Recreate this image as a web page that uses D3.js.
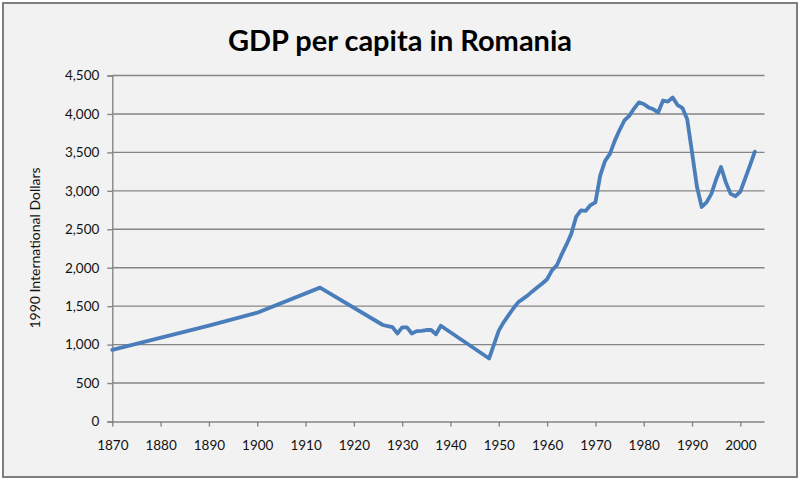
<!DOCTYPE html>
<html><head><meta charset="utf-8">
<script src="https://cdn.jsdelivr.net/npm/d3@7"></script>
<style>html,body{margin:0;padding:0;background:#fff;}svg{display:block;}</style>
</head><body>
<svg id="chart" width="800" height="481"></svg>
<script>
const years = [1870,1890,1900,1913,1926,1927,1928,1929,1930,1931,1932,1933,1934,1935,1936,1937,1938,1948,
  1950,1951,1952,1953,1954,1955,1956,1957,1958,1959,1960,1961,1962,1963,1964,1965,1966,1967,1968,1969,
  1970,1971,1972,1973,1974,1975,1976,1977,1978,1979,1980,1981,1982,1983,1984,1985,1986,1987,1988,1989,
  1990,1991,1992,1993,1994,1995,1996,1997,1998,1999,2000,2001,2002,2003];
const gdp = [931,1246,1415,1741,1255,1240,1227,1145,1225,1225,1145,1175,1180,1190,1190,1135,1245,820,
  1182,1290,1380,1470,1550,1595,1640,1695,1745,1795,1850,1965,2030,2170,2300,2440,2660,2745,2740,2815,
  2850,3200,3390,3480,3650,3790,3915,3975,4070,4150,4130,4085,4060,4020,4175,4160,4215,4115,4080,3930,
  3500,3060,2790,2850,2960,3150,3310,3110,2960,2930,2990,3160,3330,3510];
const yTicks = [0,500,1000,1500,2000,2500,3000,3500,4000,4500];
const xTicks = [1870,1880,1890,1900,1910,1920,1930,1940,1950,1960,1970,1980,1990,2000];
const title = "GDP per capita in Romania";
const yTitle = "1990 International Dollars";

const svg = d3.select("#chart");
svg.append("rect").attr("x",3).attr("y",3).attr("width",794).attr("height",474)
  .attr("fill","#f2f2f2").attr("stroke","#7f7f7f").attr("stroke-width",2);

const x = d3.scaleLinear().domain([1870,2005]).range([112.3,764.5]);
const y = d3.scaleLinear().domain([0,4500]).range([421.5,75.5]);

svg.append("text").attr("x",400).attr("y",51).attr("text-anchor","middle")
  .attr("font-family","Lato, sans-serif").attr("font-weight","bold").attr("font-size",29)
  .attr("fill","#000").text(title);

// gridlines
svg.append("g").selectAll("line").data(yTicks.filter(d=>d>0)).join("line")
  .attr("x1",x(1870)).attr("x2",x(2005)).attr("y1",d=>y(d)).attr("y2",d=>y(d))
  .attr("stroke","#858585").attr("stroke-width",1.4);

const fmt = d3.format(",");
const yAxis = svg.append("g").attr("transform",`translate(${x(1870)},0)`)
  .call(d3.axisLeft(y).tickValues(yTicks).tickFormat(fmt).tickSize(5).tickPadding(8));
const xAxis = svg.append("g").attr("transform",`translate(0,${y(0)})`)
  .call(d3.axisBottom(x).tickValues(xTicks).tickFormat(d3.format("d")).tickSize(5).tickPadding(14));
[yAxis,xAxis].forEach(a=>{
  a.select(".domain").attr("stroke","#858585").attr("stroke-width",1.4);
  a.selectAll(".tick line").attr("stroke","#858585").attr("stroke-width",1.4);
  a.selectAll("text").attr("font-family","Lato, sans-serif").attr("font-size",13.5).attr("fill","#111");
});
xAxis.select(".domain").attr("d",`M${x(1870)},0.5H${x(2005)}`);

svg.append("text").attr("transform","translate(40,248) rotate(-90)").attr("text-anchor","middle")
  .attr("font-family","Lato, sans-serif").attr("font-size",14).attr("fill","#111").text(yTitle);

const data = years.map((yr,i)=>({yr, v:gdp[i]}));
svg.append("path").datum(data).attr("fill","none").attr("stroke","#4a7ebb").attr("stroke-width",3.8)
  .attr("stroke-linejoin","round").attr("stroke-linecap","round")
  .attr("d",d3.line().x(d=>x(d.yr)).y(d=>y(d.v)));
</script>
</body></html>
